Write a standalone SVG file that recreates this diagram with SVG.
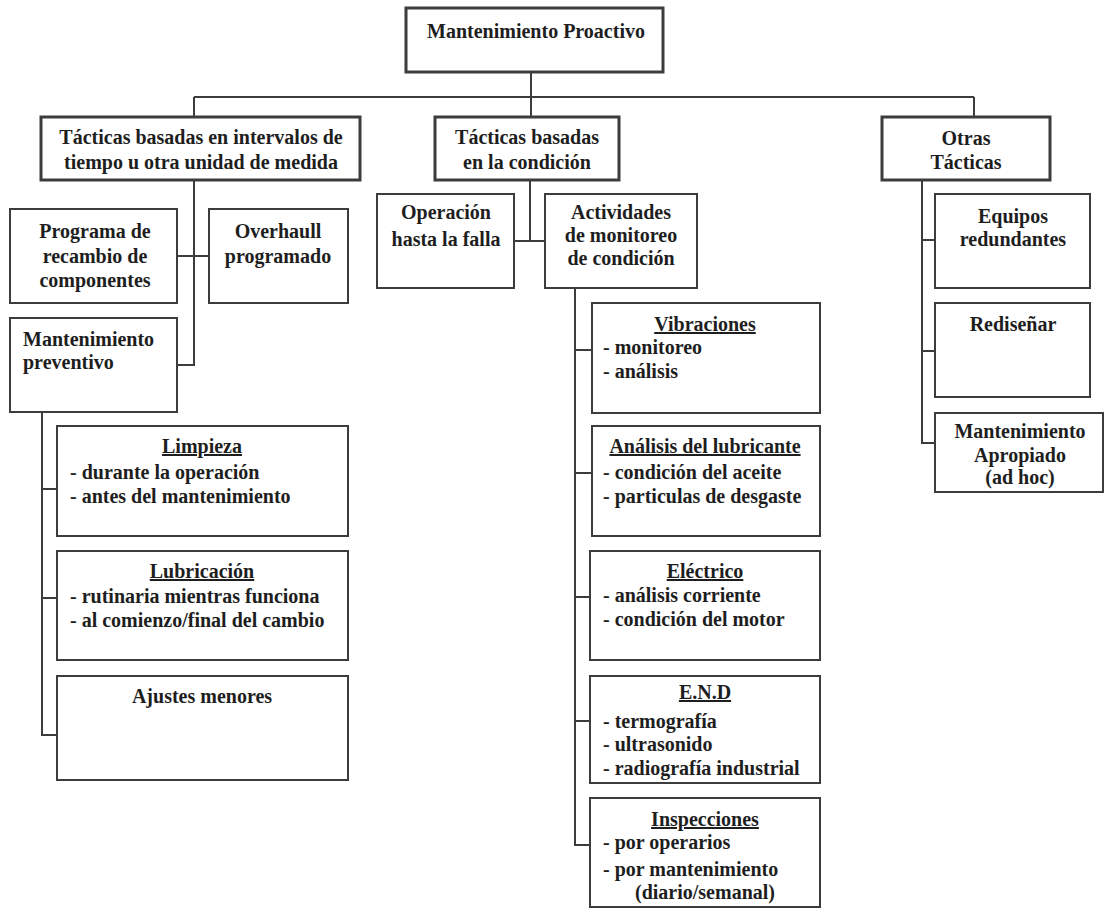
<svg xmlns="http://www.w3.org/2000/svg" width="1106" height="909" viewBox="0 0 1106 909">
<style>
rect{fill:#fff;stroke:#3c3c3c;stroke-width:2}
.top rect{stroke-width:3}
text{font-family:"Liberation Serif","Times New Roman",serif;font-weight:bold;font-size:20px;fill:#1e1e1e}
.c{text-anchor:middle}
.u{text-decoration:underline}
#connectors path{fill:none;stroke:#3c3c3c;stroke-width:2}
</style>
<rect x="0" y="0" width="1106" height="909" style="fill:#fff;stroke:none"/>
<g id="connectors">
<path d="M531 72V97M194 97H974M194 97V117M531 97V117M974 97V117"/>
<path d="M194 180V365H177M177 256H209"/>
<path d="M530 180V241M514 241H545"/>
<path d="M42 412V735H57M42 489H57M42 598H57"/>
<path d="M575 288V845H590M575 350H592M575 473H592M575 597H592M575 721H590"/>
<path d="M922 180V443H935M922 240H935M922 351H935"/>
</g>
<g id="n-proactivo" class="top"><rect x="406" y="8" width="257" height="64"/><text class="c" x="536" y="38">Mantenimiento Proactivo</text></g>
<g id="n-intervalos" class="top"><rect x="41" y="117" width="319" height="63"/><text class="c" x="201" y="144">Tácticas basadas en intervalos de</text><text class="c" x="201" y="169">tiempo u otra unidad de medida</text></g>
<g id="n-condicion" class="top"><rect x="435" y="117" width="184" height="63"/><text class="c" x="527" y="144">Tácticas basadas</text><text class="c" x="527" y="169">en la condición</text></g>
<g id="n-otras" class="top"><rect x="882" y="117" width="168" height="63"/><text class="c" x="966" y="145">Otras</text><text class="c" x="966" y="169">Tácticas</text></g>
<g id="n-programa"><rect x="10" y="209" width="167" height="94"/><text class="c" x="95" y="238">Programa de</text><text class="c" x="95" y="263">recambio de</text><text class="c" x="95" y="287">componentes</text></g>
<g id="n-overhaull"><rect x="209" y="209" width="139" height="94"/><text class="c" x="278" y="238">Overhaull</text><text class="c" x="278" y="263">programado</text></g>
<g id="n-preventivo"><rect x="10" y="318" width="167" height="94"/><text x="23" y="346">Mantenimiento</text><text x="23" y="369">preventivo</text></g>
<g id="n-limpieza"><rect x="57" y="426" width="291" height="110"/><text class="c u" x="202" y="453">Limpieza</text><text x="70" y="479">- durante la operación</text><text x="70" y="503">- antes del mantenimiento</text></g>
<g id="n-lubricacion"><rect x="57" y="551" width="291" height="109"/><text class="c u" x="202" y="578">Lubricación</text><text x="70" y="603">- rutinaria mientras funciona</text><text x="70" y="627">- al comienzo/final del cambio</text></g>
<g id="n-ajustes"><rect x="57" y="676" width="291" height="104"/><text class="c" x="202" y="703">Ajustes menores</text></g>
<g id="n-falla"><rect x="377" y="194" width="137" height="94"/><text class="c" x="446" y="219">Operación</text><text class="c" x="446" y="246">hasta la falla</text></g>
<g id="n-actividades"><rect x="545" y="194" width="152" height="94"/><text class="c" x="621" y="219">Actividades</text><text class="c" x="621" y="242">de monitoreo</text><text class="c" x="621" y="265">de condición</text></g>
<g id="n-vibraciones"><rect x="592" y="303" width="228" height="110"/><text class="c u" x="705" y="331">Vibraciones</text><text x="603" y="354">- monitoreo</text><text x="603" y="378">- análisis</text></g>
<g id="n-lubricante"><rect x="592" y="426" width="228" height="110"/><text class="c u" x="705" y="453">Análisis del lubricante</text><text x="603" y="479">- condición del aceite</text><text x="603" y="503">- particulas de desgaste</text></g>
<g id="n-electrico"><rect x="590" y="551" width="230" height="109"/><text class="c u" x="705" y="578">Eléctrico</text><text x="603" y="602">- análisis corriente</text><text x="603" y="626">- condición del motor</text></g>
<g id="n-end"><rect x="590" y="676" width="230" height="107"/><text class="c u" x="705" y="699">E.N.D</text><text x="603" y="728">- termografía</text><text x="603" y="751">- ultrasonido</text><text x="603" y="775">- radiografía industrial</text></g>
<g id="n-inspecciones"><rect x="590" y="798" width="230" height="109"/><text class="c u" x="705" y="826">Inspecciones</text><text x="603" y="849">- por operarios</text><text x="603" y="876">- por mantenimiento</text><text x="635" y="899">(diario/semanal)</text></g>
<g id="n-equipos"><rect x="935" y="194" width="155" height="94"/><text class="c" x="1013" y="223">Equipos</text><text class="c" x="1013" y="246">redundantes</text></g>
<g id="n-redisenar"><rect x="935" y="303" width="155" height="94"/><text class="c" x="1013" y="331">Rediseñar</text></g>
<g id="n-apropiado"><rect x="935" y="413" width="168" height="79"/><text class="c" x="1020" y="438">Mantenimiento</text><text class="c" x="1020" y="462">Apropiado</text><text class="c" x="1020" y="484">(ad hoc)</text></g>
</svg>
